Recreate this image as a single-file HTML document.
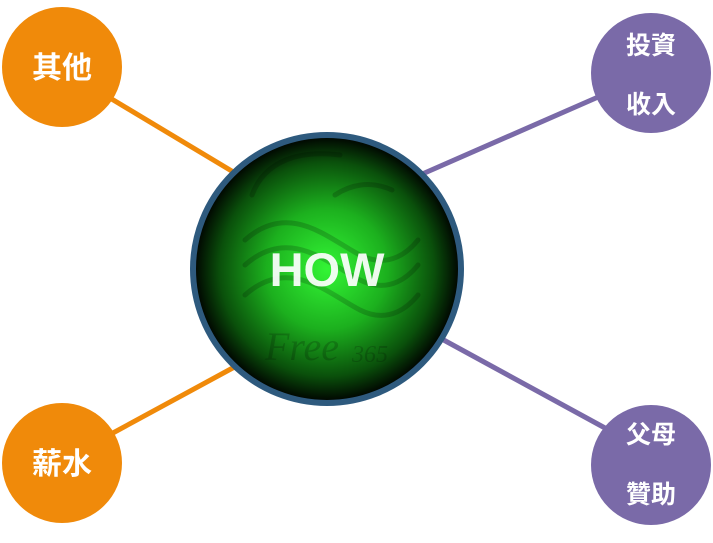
<!DOCTYPE html>
<html><head><meta charset="utf-8"><style>
body{margin:0;background:#fff;width:713px;height:538px;overflow:hidden}
</style></head><body>
<svg width="713" height="538" viewBox="0 0 713 538" xmlns="http://www.w3.org/2000/svg">
<defs>
<radialGradient id="g" cx="50%" cy="50%" r="50%">
<stop offset="0" stop-color="#33f535"/>
<stop offset="0.45" stop-color="#1cb01e"/>
<stop offset="0.8" stop-color="#0a500b"/>
<stop offset="1" stop-color="#000"/>
</radialGradient>
</defs>
<g stroke-width="5">
<line x1="100" y1="92" x2="240" y2="176" stroke="#f08a0a"/>
<line x1="100" y1="440" x2="240" y2="364" stroke="#f08a0a"/>
<line x1="420" y1="175" x2="605" y2="94" stroke="#7a6aa8"/>
<line x1="440" y1="338" x2="605" y2="428" stroke="#7a6aa8"/>
</g>
<circle cx="327" cy="269" r="134" fill="url(#g)" stroke="#2e5a7e" stroke-width="6"/>
<g fill="none" stroke="#000" stroke-opacity="0.18" stroke-width="5" stroke-linecap="round">
<path d="M245 240 C290 200,330 240,360 255 C390 270,410 250,418 240"/>
<path d="M245 265 C290 225,330 265,360 280 C390 295,410 275,418 265"/>
<path d="M245 295 C290 255,330 295,360 310 C390 325,410 305,418 295"/>
<path d="M252 195 C265 160,300 150,340 155"/>
<path d="M335 195 C350 185,370 180,392 190"/>
</g>
<text x="265" y="360" font-family="Liberation Serif,serif" font-style="italic" font-size="40" fill="#000" fill-opacity="0.18">Free</text>
<text x="352" y="362" font-family="Liberation Serif,serif" font-style="italic" font-size="24" fill="#000" fill-opacity="0.18">365</text>
<text x="327" y="286" text-anchor="middle" font-family="Liberation Sans,sans-serif" font-weight="bold" font-size="47" fill="#fff" fill-opacity="0.92">HOW</text>
<circle cx="62" cy="67" r="60" fill="#f08a0a"/>
<circle cx="62" cy="463" r="60" fill="#f08a0a"/>
<circle cx="651" cy="73" r="60" fill="#7a6aa8"/>
<circle cx="651" cy="465" r="60" fill="#7a6aa8"/>
<g font-family="Liberation Sans,'Noto Sans CJK TC',sans-serif" font-weight="bold" fill="#fff" text-anchor="middle">
<text x="62" y="78" font-size="30">其他</text>
<text x="62" y="474" font-size="30">薪水</text>
<text x="651" y="54" font-size="25">投資</text>
<text x="651" y="113" font-size="25">收入</text>
<text x="651" y="443" font-size="25">父母</text>
<text x="651" y="503" font-size="25">贊助</text>
</g>
</svg>
</body></html>
